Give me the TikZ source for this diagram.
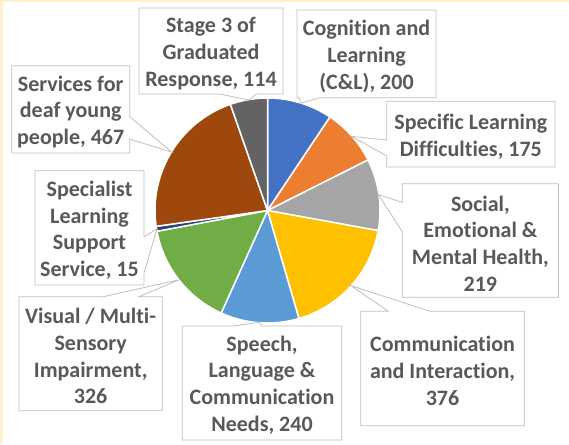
\documentclass[tikz,border=0pt]{standalone}
\usepackage{fontspec}
\setmainfont{Carlito}[Ligatures=NoCommon]
\usetikzlibrary{calc}
\definecolor{ccog}{HTML}{4472C4}
\definecolor{cspec}{HTML}{ED7D31}
\definecolor{csoc}{HTML}{A5A5A5}
\definecolor{ccomm}{HTML}{FFC000}
\definecolor{cspeech}{HTML}{5B9BD5}
\definecolor{cvis}{HTML}{70AD47}
\definecolor{cslss}{HTML}{264478}
\definecolor{cdeaf}{HTML}{9E480E}
\definecolor{cstage}{HTML}{636363}
\definecolor{txtgray}{HTML}{595959}
\definecolor{boxgray}{HTML}{BFBFBF}
\definecolor{frameyellow}{HTML}{FFF2CC}
\tikzset{
  boxnode/.style={inner sep=0pt, outer sep=0pt},
  lbl/.style={inner sep=0pt, outer sep=0pt, align=center, text=txtgray,
    font=\fontsize{22pt}{26.7pt}\selectfont\bfseries},
  callout/.style={draw=boxgray, line width=0.8pt, line join=miter},
  slice/.style={draw=white, line width=1.5pt, line join=round}
}
\begin{document}
\begin{tikzpicture}[x=1pt,y=-1pt]
\useasboundingbox (0,0) rectangle (569,444);
\fill[white] (0,0) rectangle (569,444);
\fill[frameyellow] (0,0) rectangle (569,2);
\fill[frameyellow] (0,0) rectangle (2.5,444);

\coordinate (c) at (267.5,210.5);
\def\R{112.5pt}
% pie slices (clockwise from top)
\foreach \a/\b/\col in {90/56.229/ccog, 56.229/26.679/cspec, 26.679/-10.300/csoc,
  -10.300/-73.790/ccomm, -73.790/-114.315/cspeech, -114.315/-169.362/cvis,
  -169.362/-171.895/cslss, -171.895/-250.751/cdeaf, -250.751/-270/cstage}
  \filldraw[slice, fill=\col] (c) -- ($(c)+(\a:\R)$) arc[start angle=\a, end angle=\b, radius=\R] -- cycle;

% tips at slice mid-angles
\coordinate (tcog) at ($(c)+(73.115:112pt)$);
\coordinate (tspec) at ($(c)+(41.454:112pt)$);
\coordinate (tsoc) at ($(c)+(8.190:112pt)$);
\coordinate (tcomm) at ($(c)+(-42.045:112pt)$);
\coordinate (tspeech) at ($(c)+(-94.053:112pt)$);
\coordinate (tvis) at ($(c)+(-141.839:112pt)$);
\coordinate (tslss) at ($(c)+(-170.629:112pt)$);
\coordinate (tdeaf) at ($(c)+(-211.323:112pt)$);
\coordinate (tstage) at ($(c)+(-260.376:112pt)$);

% box frames (named, empty)
\node[boxnode, minimum width=144pt, minimum height=86pt] (stage) at (211,51) {};
\node[boxnode, minimum width=139pt, minimum height=87.7pt] (cog) at (366.5,53.85) {};
\node[boxnode, minimum width=168.3pt, minimum height=65.7pt] (spec) at (470.85,134.15) {};
\node[boxnode, minimum width=156.2pt, minimum height=113.6pt] (soc) at (480.4,240.5) {};
\node[boxnode, minimum width=163.5pt, minimum height=114.4pt] (comm) at (442.55,368.5) {};
\node[boxnode, minimum width=159.4pt, minimum height=114pt] (speech) at (262,383) {};
\node[boxnode, minimum width=143.3pt, minimum height=114pt] (vis) at (90.65,353.7) {};
\node[boxnode, minimum width=109pt, minimum height=114.3pt] (slss) at (89.5,227.85) {};
\node[boxnode, minimum width=118pt, minimum height=87.3pt] (deaf) at (70.7,109.35) {};

% label texts
\node[lbl] (stage-t) at ($(stage.center)+(0,2.5)$) {Stage 3 of\\Graduated\\Response, 114};
\node[lbl] (cog-t) at ($(cog.center)+(0,2.5)$) {Cognition and\\Learning\\(C\&L), 200};
\node[lbl] (spec-t) at ($(spec.center)+(0,2.5)$) {Specific Learning\\Difficulties, 175};
\node[lbl] (soc-t) at ($(soc.center)+(0,3)$) {Social,\\Emotional \&\\Mental Health,\\219};
\node[lbl] (comm-t) at ($(comm.center)+(0,2.5)$) {Communication\\and Interaction,\\376};
\node[lbl] (speech-t) at ($(speech.center)+(0,2)$) {Speech,\\Language \&\\Communication\\Needs, 240};
\node[lbl] (vis-t) at ($(vis.center)+(0,2.5)$) {Visual / Multi-\\Sensory\\Impairment,\\326};
\node[lbl] (slss-t) at ($(slss.center)+(0,2.5)$) {Specialist\\Learning\\Support\\Service, 15};
\node[lbl] (deaf-t) at ($(deaf.center)+(0,2.5)$) {Services for\\deaf young\\people, 467};

% callouts: pointer on bottom edge
\draw[callout] (stage.north west) -- (stage.north east) -- (stage.south east)
  -- ($(stage.south west)!0.817!(stage.south east)$) -- (tstage)
  -- ($(stage.south west)!0.5625!(stage.south east)$) -- (stage.south west) -- cycle;
\draw[callout] (cog.north west) -- (cog.north east) -- (cog.south east)
  -- ($(cog.south west)!0.165!(cog.south east)$) -- (tcog)
  -- ($(cog.south west)!0.02!(cog.south east)$) -- (cog.south west) -- cycle;
% pointer on left edge
\draw[callout] (spec.north west) -- (spec.north east) -- (spec.south east) -- (spec.south west)
  -- ($(spec.north west)!0.83!(spec.south west)$) -- (tspec)
  -- ($(spec.north west)!0.59!(spec.south west)$) -- cycle;
\draw[callout] (soc.north west) -- (soc.north east) -- (soc.south east) -- (soc.south west)
  -- ($(soc.north west)!0.4225!(soc.south west)$) -- (tsoc)
  -- ($(soc.north west)!0.164!(soc.south west)$) -- cycle;
% pointer on top edge
\draw[callout] (comm.north west) -- ($(comm.north west)!0.168!(comm.north east)$) -- (tcomm)
  -- ($(comm.north west)!0.423!(comm.north east)$) -- (comm.north east)
  -- (comm.south east) -- (comm.south west) -- cycle;
\draw[callout] (speech.north west) -- ($(speech.north west)!0.317!(speech.north east)$) -- (tspeech)
  -- ($(speech.north west)!0.5!(speech.north east)$) -- (speech.north east)
  -- (speech.south east) -- (speech.south west) -- cycle;
\draw[callout] (vis.north west) -- ($(vis.north west)!0.588!(vis.north east)$) -- (tvis)
  -- ($(vis.north west)!0.837!(vis.north east)$) -- (vis.north east)
  -- (vis.south east) -- (vis.south west) -- cycle;
% pointer on right edge
\draw[callout] (slss.north west) -- (slss.north east)
  -- ($(slss.north east)!0.58!(slss.south east)$) -- (tslss)
  -- ($(slss.north east)!0.895!(slss.south east)$) -- (slss.south east) -- (slss.south west) -- cycle;
\draw[callout] (deaf.north west) -- (deaf.north east)
  -- ($(deaf.north east)!0.584!(deaf.south east)$) -- (tdeaf)
  -- ($(deaf.north east)!0.84!(deaf.south east)$) -- (deaf.south east) -- (deaf.south west) -- cycle;
\end{tikzpicture}
\end{document}
